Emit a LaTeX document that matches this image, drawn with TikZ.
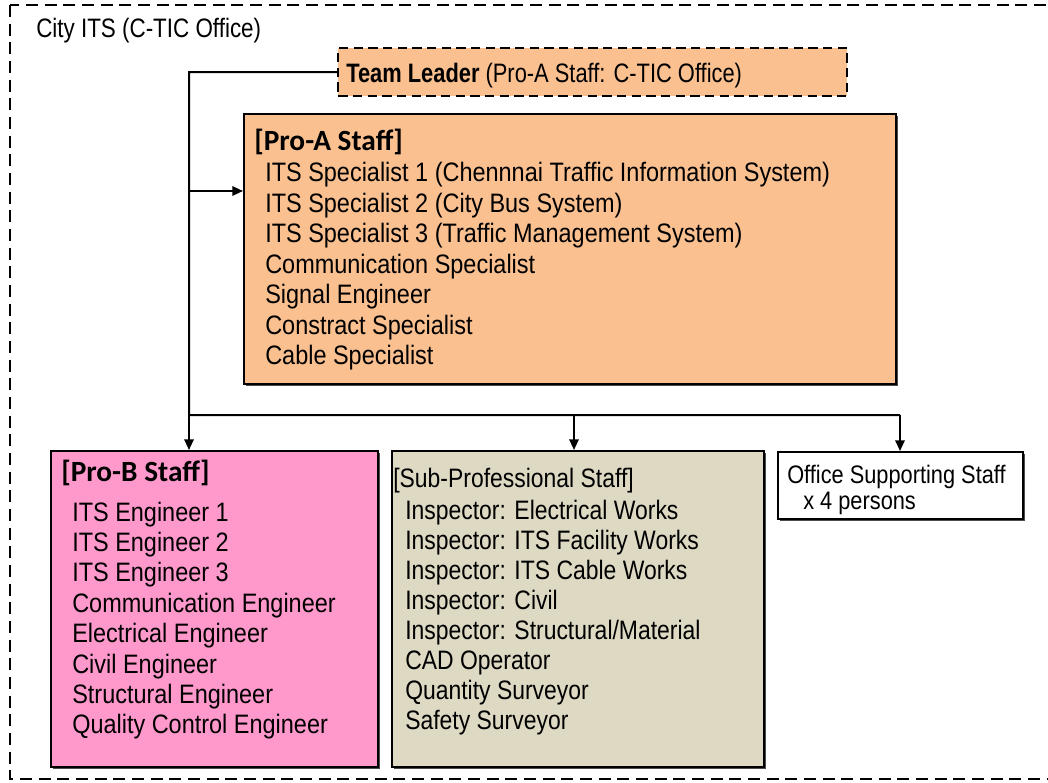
\documentclass[tikz,border=0pt]{standalone}
\usepackage{fontspec}
\setmainfont{Liberation Sans}[FakeStretch=0.84]
\newfontfamily\profont{Liberation Sans}[FakeStretch=0.88]
\newfontfamily\subfont{Liberation Sans}[FakeStretch=0.86]
\newfontfamily\tlfont{Liberation Sans}[FakeStretch=0.82]
\newfontfamily\calib{Carlito}
\usetikzlibrary{arrows.meta,shadows}
\definecolor{peach}{RGB}{250,192,144}
\definecolor{pinkb}{RGB}{255,153,204}
\definecolor{khaki}{RGB}{221,217,195}
\begin{document}
\begin{tikzpicture}[x=0.75pt,y=-0.75pt,
  font=\fontsize{20}{24}\selectfont,
  boxx/.style={draw, line width=1.5pt, inner sep=0pt, anchor=north west,
    drop shadow={shadow xshift=1.2pt, shadow yshift=-1.2pt, fill=black!70, opacity=1}},
  txt/.style={anchor=base west, inner sep=0pt},
  ptxt/.style={anchor=base west, inner sep=0pt, font=\profont\fontsize{20}{24}\selectfont},
  stxt/.style={anchor=base west, inner sep=0pt, font=\subfont\fontsize{20}{24}\selectfont},
  otxt/.style={anchor=base west, inner sep=0pt, font=\subfont\fontsize{19}{23}\selectfont},
  hdr/.style={anchor=base west, inner sep=0pt, font=\calib\bfseries\fontsize{22}{26}\selectfont},
  conn/.style={line width=1.5pt},
  arr/.style={line width=1.5pt, -{Triangle[length=8pt,width=7pt]}}]
\useasboundingbox (0,0) rectangle (1048,782);
% outer dashed frame
\draw[line width=1.6pt, dash pattern=on 9pt off 5pt] (10,5) rectangle (1070,779);
\node[txt] (city) at (36,37) {City ITS (C-TIC Office)};
% team leader
\node[draw, line width=1.8pt, dash pattern=on 7pt off 4pt, fill=peach, inner sep=0pt, anchor=north west,
  minimum width=381.75pt, minimum height=36pt] (tl) at (337,47) {};
\node[txt, font=\tlfont\fontsize{20}{24}\selectfont] (tlt) at (346,82) {\bfseries Team Leader\mdseries{} (Pro-A Staff: C-TIC Office)};
% Pro-A
\node[boxx, fill=peach, minimum width=489pt, minimum height=202.5pt] (proa) at (243,113) {};
\node[hdr] (pah) at (254,150) {[Pro-A Staff]};
\foreach \t [count=\i from 0] in {ITS Specialist 1 (Chennnai Traffic Information System),
  ITS Specialist 2 (City Bus System),
  ITS Specialist 3 (Traffic Management System),
  Communication Specialist, Signal Engineer, Constract Specialist, Cable Specialist}
  \node[ptxt] (pa\i) at (265,181.5+30.5*\i) {\t};
% Pro-B
\node[boxx, fill=pinkb, minimum width=245.25pt, minimum height=237pt] (prob) at (50,450) {};
\node[hdr] (pbh) at (61,481) {[Pro-B Staff]};
\foreach \t [count=\i from 0] in {ITS Engineer 1, ITS Engineer 2, ITS Engineer 3,
  Communication Engineer, Electrical Engineer, Civil Engineer, Structural Engineer,
  Quality Control Engineer}
  \node[ptxt] (pb\i) at (72,521+30.4*\i) {\t};
% Sub-professional
\node[boxx, fill=khaki, minimum width=279pt, minimum height=237pt] (sub) at (391,450) {};
\node[stxt] (sbh) at (393,487) {[Sub-Professional Staff]};
\foreach \t [count=\i from 0] in {Inspector: Electrical Works, Inspector: ITS Facility Works,
  Inspector: ITS Cable Works, Inspector: Civil, Inspector: Structural/Material,
  CAD Operator, Quantity Surveyor, Safety Surveyor}
  \node[stxt] (sb\i) at (405,519+30.1*\i) {\t};
% Office
\node[boxx, fill=white, minimum width=183.75pt, minimum height=50.25pt] (off) at (777,451) {};
\node[otxt] (of1) at (787,483) {Office Supporting Staff};
\node[otxt] (of2) at (803,509) {x 4 persons};
% connectors
\coordinate (c1) at (189,72);
\coordinate (c2) at (189,191);
\coordinate (j) at (189,415);
\coordinate (j2) at (574,415);
\coordinate (j3) at (900,415);
\draw[conn] (tl.west) -- (c1) -- (j) -- (j3);
\draw[arr] (c2) -- (proa.west |- c2);
\draw[arr] (j) -- (j |- prob.north);
\draw[arr] (j2) -- (j2 |- sub.north);
\draw[arr] (j3) -- (j3 |- off.north);
\end{tikzpicture}
\end{document}
